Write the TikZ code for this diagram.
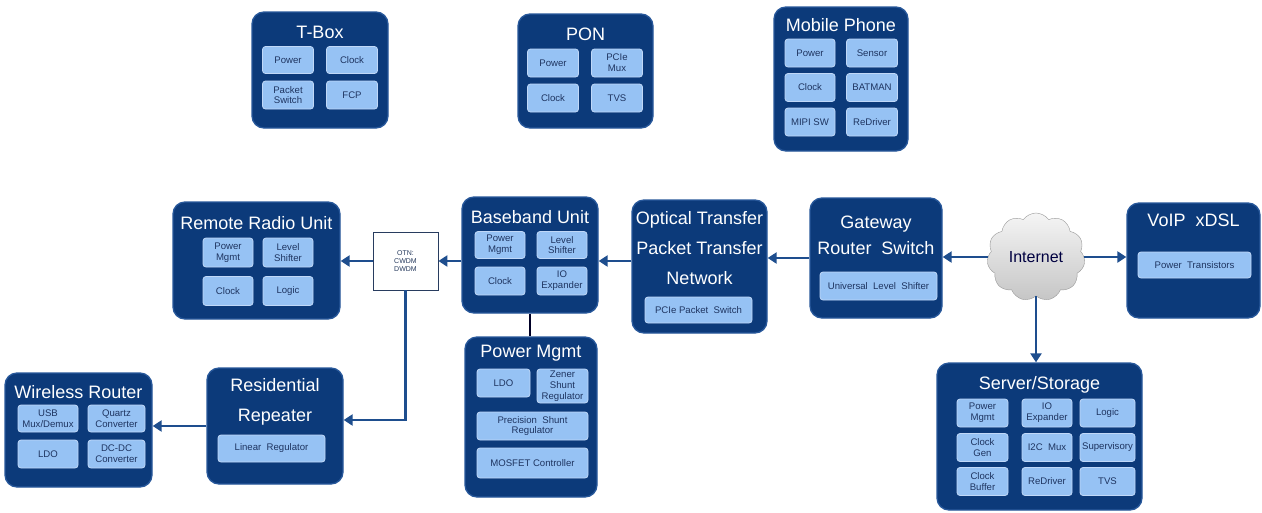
\documentclass[tikz,border=0pt]{standalone}
\usepackage{fontspec}
\setmainfont{Liberation Sans}
\usetikzlibrary{shapes.symbols,arrows.meta,calc}
\definecolor{navy}{RGB}{12,58,122}
\definecolor{navyedge}{RGB}{40,88,155}
\definecolor{subfill}{RGB}{150,194,244}
\definecolor{subedge}{RGB}{192,216,248}
\definecolor{subtext}{RGB}{30,52,96}
\definecolor{linkblue}{RGB}{30,78,142}
\definecolor{otnedge}{RGB}{40,60,95}
\tikzset{
  unitbox/.style={rounded corners=12pt, fill=navy, draw=navyedge, line width=1.3pt, inner sep=0pt},
  ttl/.style={text=white, font=\fontsize{18}{30}\selectfont, align=center, inner sep=0pt},
  part/.style={rounded corners=3pt, fill=subfill, draw=subedge, line width=0.8pt, inner sep=0pt,
    text=subtext, font=\fontsize{9.6}{10.8}\selectfont, align=center},
  link/.style={draw=linkblue, line width=2.8pt, -{Triangle[length=9pt,width=11pt]}},
  plain/.style={draw=black!85!blue, line width=2.8pt},
}
\begin{document}
\begin{tikzpicture}[x=1pt, y=-1pt]
\fill[white] (0,0) rectangle (1262,512);
\useasboundingbox (0,0) rectangle (1262,512);

% ---- T-Box
\node[unitbox, minimum width=136pt, minimum height=116pt] (tbox) at (320,70) {};
\node[ttl] (tboxT) at (320,32) {T-Box};
\node[part, minimum width=51pt, minimum height=27pt] (tb1) at (288,60) {Power};
\node[part, minimum width=51pt, minimum height=27pt] (tb2) at (352,60) {Clock};
\node[part, minimum width=51pt, minimum height=28pt] (tb3) at (288,95) {Packet\\Switch};
\node[part, minimum width=51pt, minimum height=28pt] (tb4) at (352,95) {FCP};

% ---- PON
\node[unitbox, minimum width=135pt, minimum height=114pt] (pon) at (585.5,71) {};
\node[ttl] (ponT) at (585.5,34) {PON};
\node[part, minimum width=51pt, minimum height=28pt] (pn1) at (553,63) {Power};
\node[part, minimum width=51pt, minimum height=28pt] (pn2) at (617,63) {PCIe\\Mux};
\node[part, minimum width=51pt, minimum height=28pt] (pn3) at (553,98) {Clock};
\node[part, minimum width=51pt, minimum height=28pt] (pn4) at (617,98) {TVS};

% ---- Mobile Phone
\node[unitbox, minimum width=134pt, minimum height=144pt] (mob) at (841,79) {};
\node[ttl] (mobT) at (841,25) {Mobile Phone};
\node[part, minimum width=50pt, minimum height=28pt] (mp1) at (810,53) {Power};
\node[part, minimum width=51pt, minimum height=28pt] (mp2) at (872,53) {Sensor};
\node[part, minimum width=50pt, minimum height=28pt] (mp3) at (810,87.5) {Clock};
\node[part, minimum width=51pt, minimum height=28pt] (mp4) at (872,87.5) {BATMAN};
\node[part, minimum width=50pt, minimum height=28pt] (mp5) at (810,122) {MIPI SW};
\node[part, minimum width=51pt, minimum height=28pt] (mp6) at (872,122) {ReDriver};

% ---- Remote Radio Unit
\node[unitbox, minimum width=167pt, minimum height=117pt] (rru) at (256.5,260.5) {};
\node[ttl] (rruT) at (256.5,223) {Remote Radio Unit};
\node[part, minimum width=50pt, minimum height=29pt] (ru1) at (228,252.5) {Power\\Mgmt};
\node[part, minimum width=50pt, minimum height=29pt] (ru2) at (288,252.5) {Level\\Shifter};
\node[part, minimum width=50pt, minimum height=29pt] (ru3) at (228,291) {Clock};
\node[part, minimum width=50pt, minimum height=29pt] (ru4) at (288,291) {Logic};

% ---- OTN
\node[draw=otnedge, fill=white, line width=0.8pt, minimum width=65pt, minimum height=58pt, inner sep=0pt,
  align=center, text=otnedge, font=\fontsize{7}{8}\selectfont] (otn) at (405.5,261) {OTN:\\CWDM\\DWDM};

% ---- Baseband Unit
\node[unitbox, minimum width=136pt, minimum height=116pt] (bb) at (530,255) {};
\node[ttl] (bbT) at (530,217) {Baseband Unit};
\node[part, minimum width=50pt, minimum height=27pt] (bu1) at (500,245) {Power\\Mgmt};
\node[part, minimum width=50pt, minimum height=27pt] (bu2) at (562,245) {Level\\Shifter};
\node[part, minimum width=50pt, minimum height=28pt] (bu3) at (500,281) {Clock};
\node[part, minimum width=50pt, minimum height=28pt] (bu4) at (562,281) {IO\\Expander};

% ---- Optical / Packet Transfer Network
\node[unitbox, minimum width=135pt, minimum height=133pt] (opt) at (699.5,266.5) {};
\node[ttl] (optT) at (699.5,248) {Optical Transfer\\Packet Transfer\\Network};
\node[part, minimum width=107pt, minimum height=26pt] (op1) at (698.5,310) {PCIe Packet\ \ Switch};

% ---- Gateway Router Switch
\node[unitbox, minimum width=132pt, minimum height=120pt] (gw) at (876,258) {};
\node[ttl, font=\fontsize{18}{26}\selectfont] (gwT) at (876,235) {Gateway\\Router\ \ Switch};
\node[part, minimum width=117pt, minimum height=28pt] (gw1) at (878.5,286) {Universal\ \ Level\ \ Shifter};

% ---- Internet
\node[cloud, cloud puffs=11, cloud puff arc=110, aspect=1.1, minimum width=98pt, minimum height=88pt,
  draw=gray!80, top color=gray!8, bottom color=gray!45, inner sep=0pt,
  text=black!75!blue, font=\fontsize{16}{16}\selectfont] (net) at (1036,257) {Internet};

% ---- VoIP xDSL
\node[unitbox, minimum width=133pt, minimum height=115pt] (voip) at (1193.5,260.5) {};
\node[ttl] (voipT) at (1193.5,220) {VoIP\ \ xDSL};
\node[part, minimum width=113pt, minimum height=26pt] (vp1) at (1194.5,265) {Power\ \ Transistors};

% ---- Server/Storage
\node[unitbox, minimum width=205pt, minimum height=147pt] (srv) at (1039.5,436.5) {};
\node[ttl] (srvT) at (1039.5,385) {Server/Storage};
\node[part, minimum width=51pt, minimum height=28pt] (sv1) at (982.5,413) {Power\\Mgmt};
\node[part, minimum width=50pt, minimum height=28pt] (sv2) at (1047,413) {IO\\Expander};
\node[part, minimum width=55pt, minimum height=28pt] (sv3) at (1107.5,413) {Logic};
\node[part, minimum width=51pt, minimum height=28pt] (sv4) at (982.5,447.5) {Clock\\Gen};
\node[part, minimum width=50pt, minimum height=28pt] (sv5) at (1047,447.5) {I2C\ \ Mux};
\node[part, minimum width=55pt, minimum height=28pt] (sv6) at (1107.5,447.5) {Supervisory};
\node[part, minimum width=51pt, minimum height=28pt] (sv7) at (982.5,481.5) {Clock\\Buffer};
\node[part, minimum width=50pt, minimum height=28pt] (sv8) at (1047,481.5) {ReDriver};
\node[part, minimum width=55pt, minimum height=28pt] (sv9) at (1107.5,481.5) {TVS};

% ---- Power Mgmt
\node[unitbox, minimum width=132pt, minimum height=160pt] (pm) at (531,417) {};
\node[ttl] (pmT) at (531,353) {Power Mgmt};
\node[part, minimum width=53pt, minimum height=28pt] (pm1) at (503.5,383) {LDO};
\node[part, minimum width=51pt, minimum height=34pt] (pm2) at (562.5,386) {Zener\\Shunt\\Regulator};
\node[part, minimum width=111pt, minimum height=28pt] (pm3) at (532.5,426) {Precision\ \ Shunt\\Regulator};
\node[part, minimum width=111pt, minimum height=30pt] (pm4) at (532.5,463) {MOSFET Controller};

% ---- Residential Repeater
\node[unitbox, minimum width=136pt, minimum height=116pt] (rr) at (275,426) {};
\node[ttl] (rrT) at (275,402) {Residential\\Repeater};
\node[part, minimum width=107pt, minimum height=27pt] (rp1) at (271.5,448.5) {Linear\ \ Regulator};

% ---- Wireless Router
\node[unitbox, minimum width=147pt, minimum height=114pt] (wr) at (78.5,430) {};
\node[ttl] (wrT) at (78.5,392) {Wireless Router};
\node[part, minimum width=60pt, minimum height=27pt] (wr1) at (48,418.5) {USB\\Mux/Demux};
\node[part, minimum width=57pt, minimum height=27pt] (wr2) at (116.5,418.5) {Quartz\\Converter};
\node[part, minimum width=60pt, minimum height=28pt] (wr3) at (48,454) {LDO};
\node[part, minimum width=57pt, minimum height=28pt] (wr4) at (116.5,454) {DC-DC\\Converter};

% ---- connectors
\draw[link] (net.west) -- (net.west -| gw.east);
\draw[link] (net.east) -- (net.east -| voip.west);
\draw[link] (net.south) -- (net.south |- srv.north);
\draw[link] (gw.west) -- (gw.west -| opt.east);
\draw[link] (opt.west |- otn) -- (bb.east |- otn);
\draw[link] (bb.west |- otn) -- (otn.east);
\draw[link] (otn.west) -- (otn.west -| rru.east);
\draw[link] (otn.south) |- ([yshift=6pt]rr.east);
\draw[link] (rr.west) -- (rr.west -| wr.east);
\draw[plain] (bb.south) -- (bb.south |- pm.north);
\end{tikzpicture}
\end{document}
